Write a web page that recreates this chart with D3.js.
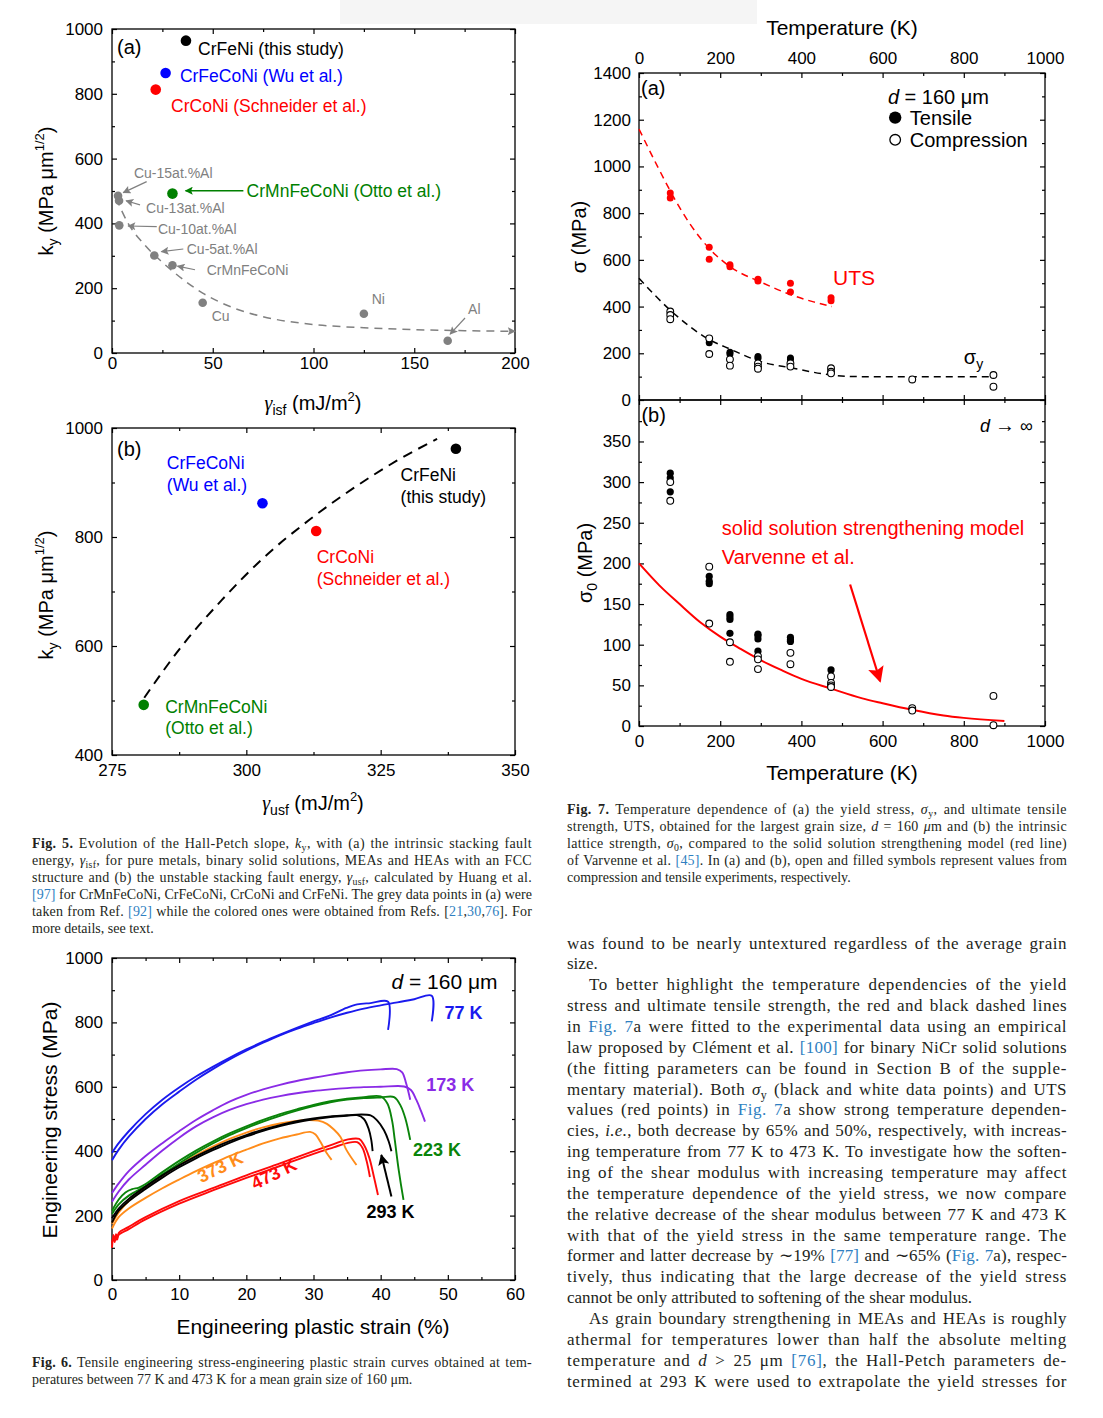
<!DOCTYPE html>
<html>
<head>
<meta charset="utf-8">
<script src="https://cdn.jsdelivr.net/npm/d3@7"></script>
<style>
body { margin: 0; background: #fff; }
#page { position: relative; width: 1103px; height: 1418px; overflow: hidden; background: #fff; }
#page svg { position: absolute; left: 0; top: 0; }
.txt { position: absolute; font-family: "Liberation Serif", "Times New Roman", serif; color: #231f20; white-space: nowrap; }
.just { text-align: justify; text-align-last: justify; }
.txt a { color: #2f7fc1; text-decoration: none; }
.txt sub { font-size: 70%; vertical-align: -0.3em; line-height: 0; }
</style>
</head>
<body>
<div id="page"></div>
<script>
/*********************** DATA ***********************/
// Fig. 5a - ky vs gamma_isf
const isfGreyX = [3, 3.5, 3.6, 21, 30, 45, 125, 166.6];
const isfGreyY = [485, 470, 394, 301, 271, 155, 121, 38];
const isfFitX = [2, 8, 16, 25, 35, 45, 60, 75, 100, 125, 150, 175, 200];
const isfFitY = [478, 400, 335, 280, 228, 185, 140, 112, 88, 78, 72, 69, 67];
const alloyNames = ["CrFeNi (this study)", "CrFeCoNi (Wu et al.)", "CrCoNi (Schneider et al.)", "CrMnFeCoNi (Otto et al.)"];
const alloyColors = ["#000000", "#0000ff", "#ff0000", "#008000"];
const isfColX = [36.7, 26.6, 21.7, 30];
const isfColY = [964, 864, 813, 492];
const fig5aXTicks = [0, 50, 100, 150, 200];
const fig5aYTicks = [0, 200, 400, 600, 800, 1000];

// Fig. 5b - ky vs gamma_usf
const usfX = [339, 303, 313, 280.9];
const usfY = [962, 862, 811, 492];
const usfFitX = [281, 288, 295.5, 303, 311.8, 320, 328, 335.5];
const usfFitY = [505, 600, 685, 760, 832, 890, 940, 980];
const fig5bXTicks = [275, 300, 325, 350];
const fig5bYTicks = [400, 600, 800, 1000];

// Fig. 6 - tensile curves [strain %, stress MPa]
const c77a = [[0,395],[1,425],[2.5,462],[5,515],[7.5,560],[10,598],[12.5,632],[15,662],[17.5,690],[20,716],[22.5,740],[25,762],[27.5,783],[30,803],[32.5,822],[34.9,845],[36.5,856],[38.5,860],[41.1,864],[41.1,777]];
const c77b = [[0,372],[1,405],[2.5,445],[5,500],[7.5,546],[10,585],[12.5,622],[15,655],[17.5,685],[20,712],[22.5,737],[25,760],[27.5,780],[30,798],[32.5,815],[35,830],[37.5,843],[40,853],[42.5,862],[45,872],[47.6,883],[47.6,803]];
const c173a = [[0,270],[1,300],[2.5,338],[5,385],[7.5,425],[10,462],[12.5,497],[15,527],[17.5,554],[20,575],[22.5,592],[25,606],[27.5,618],[30,628],[32.5,637],[35,645],[37.5,651],[40,654],[42.4,655],[43.2,645],[43.8,610],[44.4,560]];
const c173b = [[0,243],[1,275],[2.5,312],[5,358],[7.5,402],[10,442],[12.5,477],[15,505],[17.5,528],[20,546],[22.5,560],[25,571],[27.5,580],[30,587],[32.5,592],[35,596],[37.5,599],[40,600],[43.5,601],[44.5,590],[45.3,560],[46,525],[46.6,492]];
const c223a = [[0,215],[1,250],[2,272],[3,282],[4,287],[5,298],[7.5,335],[10,370],[12.5,402],[15,430],[17.5,455],[20,477],[22.5,497],[25,515],[27.5,530],[30,544],[32.5,555],[35,563],[37.5,568],[40,570],[41,548],[41.7,495],[42.1,435],[42.7,340],[43.4,249]];
const c223b = [[0,205],[1,235],[2.5,262],[5,292],[7.5,328],[10,362],[12.5,395],[15,424],[17.5,450],[20,472],[22.5,492],[25,510],[27.5,526],[30,540],[32.5,552],[35,560],[37.5,565],[40,567],[42,568],[43,540],[43.7,500],[44.4,435]];
const c293a = [[0,178],[1,215],[2.5,245],[5,283],[7.5,318],[10,350],[12.5,378],[15,403],[17.5,426],[20,446],[22.5,463],[25,478],[27.5,490],[30,499],[32.5,506],[35,510],[36.5,512],[37.5,500],[38.2,470],[38.6,435],[38.8,400]];
const c293b = [[0,192],[1,222],[2.5,252],[5,290],[7.5,325],[10,356],[12.5,384],[15,409],[17.5,431],[20,450],[22.5,467],[25,481],[27.5,493],[30,502],[32.5,508],[35,512],[38.5,511],[39.5,495],[40.5,465],[41.2,430],[41.6,400]];
const c373a = [[0,175],[1,210],[2.5,245],[5,287],[7.5,324],[10,357],[12.5,387],[15,414],[17.5,438],[20,458],[22.5,474],[25,486],[27.5,494],[29,497],[30.7,495],[32,485],[33,468],[34,445],[34.9,404],[36.4,357]];
const c373b = [[0,160],[1,195],[2.5,222],[5,255],[7.5,285],[10,312],[12.5,338],[15,362],[17.5,385],[20,405],[22.5,424],[25,440],[27.5,452],[29.5,460],[30.3,452],[31,430],[31.8,400],[32.7,373]];
const c473a = [[0,100],[0.2,140],[0.4,118],[0.6,142],[0.8,126],[1,146],[2.5,165],[5,195],[10,245],[15,285],[20,325],[25,362],[30,400],[33,422],[35,436],[36.8,438],[37.5,420],[38.3,380],[39,320],[39.6,264]];
const c473b = [[0,115],[0.3,135],[0.6,125],[1,140],[2.5,158],[5,188],[10,237],[15,278],[20,317],[25,354],[30,392],[33,412],[35,425],[36.5,428],[37.3,410],[37.9,370],[38.4,320]];
const tensileCurves = [
  { temp: "77 K", pts: c77a }, { temp: "77 K", pts: c77b },
  { temp: "173 K", pts: c173a }, { temp: "173 K", pts: c173b },
  { temp: "473 K", pts: c473a }, { temp: "473 K", pts: c473b },
  { temp: "373 K", pts: c373a }, { temp: "373 K", pts: c373b },
  { temp: "223 K", pts: c223a }, { temp: "223 K", pts: c223b },
  { temp: "293 K", pts: c293a }, { temp: "293 K", pts: c293b }
];
const tempNames = ["77 K", "173 K", "223 K", "293 K", "373 K", "473 K"];
const tempColors = ["#1a1aee", "#8a2be6", "#0a840a", "#000000", "#ff8c1a", "#ff0a0a"];
const fig6XTicks = [0, 10, 20, 30, 40, 50, 60];
const fig6YTicks = [0, 200, 400, 600, 800, 1000];

// Fig. 7a - yield stress and UTS vs temperature
const utsT = [77, 77, 173, 173, 224, 224, 293, 293, 373, 373, 473, 473];
const utsS = [886, 865, 654, 603, 579, 571, 517, 510, 500, 462, 438, 425];
const utsFitT = [0, 50, 77, 125, 175, 225, 300, 375, 430, 475];
const utsFitS = [1160, 985, 895, 755, 645, 570, 505, 450, 420, 400];
const ysTensT = [173, 224, 224, 293, 293, 373, 373];
const ysTensS = [245, 204, 197, 186, 179, 180, 172];
const ysCompT = [77, 77, 77, 173, 173, 224, 224, 293, 293, 293, 373, 373, 473, 473, 473, 673, 873, 873];
const ysCompS = [379, 364, 346, 264, 197, 174, 147, 157, 143, 134, 157, 143, 136, 121, 114, 88, 107, 57];
const ysFitT = [0, 76, 172, 224, 300, 380, 473, 544, 700, 873];
const ysFitS = [521, 386, 260, 218, 164, 136, 107, 100, 100, 100];
const fig7XTicks = [0, 200, 400, 600, 800, 1000];
const fig7aYTicks = [0, 200, 400, 600, 800, 1000, 1200, 1400];

// Fig. 7b - lattice strength vs temperature
const s0TensT = [77, 77, 77, 173, 173, 173, 224, 224, 224, 224, 293, 293, 293, 293, 373, 373, 373, 473];
const s0TensS = [311, 305, 288, 184, 178, 175, 137, 134, 131, 114, 113, 111, 107, 92, 109, 106, 104, 69];
const s0CompT = [77, 77, 173, 173, 224, 224, 293, 293, 293, 373, 373, 473, 473, 473, 473, 673, 673, 873, 873];
const s0CompS = [300, 277, 196, 126, 103, 79, 86, 82, 70, 90, 76, 61, 53, 50, 48, 22, 19, 37, 1];
const modelT = [0, 50, 100, 150, 200, 250, 300, 350, 400, 473, 550, 600, 672, 750, 800, 900];
const modelS = [200, 173, 150, 128, 110, 95, 81, 69, 58, 46, 34, 28, 20, 13, 10, 6];
const fig7bYTicks = [0, 50, 100, 150, 200, 250, 300, 350];

/*********************** SETUP ***********************/
const SANS = "'Liberation Sans', Arial, sans-serif";
const page = d3.select('#page');
const svg = page.append('svg').attr('width', 1103).attr('height', 1418);
const defs = svg.append('defs');

svg.append('rect').attr('x', 340).attr('y', 0).attr('width', 417).attr('height', 24).attr('fill', '#f5f5f5');

function marker(id, color, w, h) {
    defs.append('marker').attr('id', id).attr('viewBox', '0 0 10 10')
        .attr('refX', 9).attr('refY', 5)
        .attr('markerWidth', w).attr('markerHeight', h)
        .attr('markerUnits', 'userSpaceOnUse').attr('orient', 'auto')
        .append('path').attr('d', 'M0,0L10,5L0,10L2,5Z').attr('fill', color);
}
marker('arGrey', '#808080', 10, 8);
marker('arGreen', '#008000', 10, 8);
marker('arBlack', '#000', 13, 11);
marker('arRed', '#ff0000', 22, 16);

// frame + inward ticks on four sides
function axes(x, y, o) {
    let g = svg.append('g');
    let [xl, xr] = x.range();
    let [yb, yt] = y.range();
    let f = d3.format('d');
    g.append('g').attr('transform', `translate(0,${yb})`)
        .call(d3.axisBottom(x).tickValues(o.xMajor).tickSize(-5).tickPadding(o.xPad || 4).tickFormat(o.bottom ? f : ''));
    g.append('g').attr('transform', `translate(0,${yb})`)
        .call(d3.axisBottom(x).tickValues(o.xMinor).tickSize(-3).tickFormat(''));
    g.append('g').attr('transform', `translate(0,${yt})`)
        .call(d3.axisTop(x).tickValues(o.xMajor).tickSize(-5).tickPadding(o.xPad || 4).tickFormat(o.top ? f : ''));
    g.append('g').attr('transform', `translate(0,${yt})`)
        .call(d3.axisTop(x).tickValues(o.xMinor).tickSize(-3).tickFormat(''));
    g.append('g').attr('transform', `translate(${xl},0)`)
        .call(d3.axisLeft(y).tickValues(o.yMajor).tickSize(-5).tickPadding(o.yPad || 8).tickFormat(f));
    g.append('g').attr('transform', `translate(${xl},0)`)
        .call(d3.axisLeft(y).tickValues(o.yMinor).tickSize(-3).tickFormat(''));
    g.append('g').attr('transform', `translate(${xr},0)`)
        .call(d3.axisRight(y).tickValues(o.yMajor).tickSize(-5).tickFormat(''));
    g.append('g').attr('transform', `translate(${xr},0)`)
        .call(d3.axisRight(y).tickValues(o.yMinor).tickSize(-3).tickFormat(''));
    g.selectAll('.domain').remove();
    g.selectAll('line').attr('stroke', '#000').attr('stroke-width', 1.2);
    g.selectAll('text').attr('font-family', SANS).attr('font-size', 17).attr('fill', '#000');
    g.append('rect').attr('x', xl).attr('y', yt).attr('width', xr - xl).attr('height', yb - yt)
        .attr('fill', 'none').attr('stroke', '#000').attr('stroke-width', 1.3);
}

function label(x, y, html, o) {
    o = o || {};
    return svg.append('text')
        .attr('transform', `translate(${x},${y}) rotate(${o.rot || 0})`)
        .attr('dy', '0.35em')
        .attr('text-anchor', o.anchor || 'start')
        .attr('font-family', SANS)
        .attr('font-size', o.size || 17)
        .attr('font-weight', o.bold ? 'bold' : 'normal')
        .attr('fill', o.color || '#000')
        .html(html);
}

function arrow(x1, y1, x2, y2, color, mk, w) {
    svg.append('line').attr('x1', x1).attr('y1', y1).attr('x2', x2).attr('y2', y2)
        .attr('stroke', color).attr('stroke-width', w || 1.3).attr('marker-end', `url(#${mk})`);
}

const gam = '<tspan font-family="Liberation Serif" font-style="italic">γ</tspan>';
const kyTitle = 'k<tspan dy="5" font-size="14">y</tspan><tspan dy="-5"> (MPa μm</tspan><tspan dy="-9" font-size="13">1/2</tspan><tspan dy="9">)</tspan>';

/*********************** FIG 5a ***********************/
let x5a = d3.scaleLinear().domain([0, 200]).range([112, 515]);
let y5a = d3.scaleLinear().domain([0, 1000]).range([353, 29]);
axes(x5a, y5a, { xMajor: fig5aXTicks, xMinor: [25, 75, 125, 175], yMajor: fig5aYTicks, yMinor: [100, 300, 500, 700, 900], bottom: true, xPad: 4, yPad: 9 });

svg.append('path')
    .datum(isfFitX.map((d, i) => [d, isfFitY[i]]))
    .attr('d', d3.line().x(d => x5a(d[0])).y(d => y5a(d[1])).curve(d3.curveMonotoneX))
    .attr('fill', 'none').attr('stroke', '#808080').attr('stroke-width', 1.5)
    .attr('stroke-dasharray', '8,6').attr('marker-end', 'url(#arGrey)');

svg.selectAll('.grey5a').data(isfGreyX).enter().append('circle')
    .attr('cx', d => x5a(d)).attr('cy', (d, i) => y5a(isfGreyY[i])).attr('r', 4.3).attr('fill', '#808080');
svg.selectAll('.col5a').data(isfColX).enter().append('circle')
    .attr('cx', d => x5a(d)).attr('cy', (d, i) => y5a(isfColY[i])).attr('r', 5.3).attr('fill', (d, i) => alloyColors[i]);

// grey labels with arrows: [text, x, y, arrow from x,y, to x,y]
let greyLabels = [
    ['Cu-15at.%Al', 10.9, 556, 17.2, 529, 5.6, 495],
    ['Cu-13at.%Al', 16.9, 448, 13.9, 457, 7.0, 470],
    ['Cu-10at.%Al', 22.8, 383, 22.2, 390, 8.0, 392],
    ['Cu-5at.%Al', 37.1, 322, 35.4, 321, 24.5, 313],
    ['CrMnFeCoNi', 47, 257, 41.2, 257, 32.5, 268],
    ['Cu', 49.5, 113],
    ['Ni', 128.9, 167],
    ['Al', 176.7, 134, 175.2, 108, 167.8, 58]
];
greyLabels.forEach(l => {
    label(x5a(l[1]), y5a(l[2]), l[0], { size: 14, color: '#808080' });
    if (l.length > 3) arrow(x5a(l[3]), y5a(l[4]), x5a(l[5]), y5a(l[6]), '#808080', 'arGrey', 1.2);
});
label(x5a(42.7), y5a(940), alloyNames[0], { size: 17.5, color: alloyColors[0] });
label(x5a(33.7), y5a(855), alloyNames[1], { size: 17.5, color: alloyColors[1] });
label(x5a(29.3), y5a(762), alloyNames[2], { size: 17.5, color: alloyColors[2] });
label(x5a(66.8), y5a(501), alloyNames[3], { size: 17.5, color: alloyColors[3] });
arrow(x5a(65.2), y5a(501), x5a(36.5), y5a(501), '#008000', 'arGreen', 1.4);
label(117, 47, '(a)', { size: 20 });
label(46, 191, kyTitle, { size: 20, rot: -90, anchor: 'middle' });
label(313, 403, gam + '<tspan dy="5" font-size="14">isf</tspan><tspan dy="-5"> (mJ/m</tspan><tspan dy="-9" font-size="13">2</tspan><tspan dy="9">)</tspan>', { size: 20, anchor: 'middle' });

/*********************** FIG 5b ***********************/
let x5b = d3.scaleLinear().domain([275, 350]).range([112, 515]);
let y5b = d3.scaleLinear().domain([400, 1000]).range([755, 428]);
axes(x5b, y5b, { xMajor: fig5bXTicks, xMinor: [287.5, 312.5, 337.5], yMajor: fig5bYTicks, yMinor: [500, 700, 900], bottom: true, xPad: 9, yPad: 9 });

svg.append('path')
    .datum(usfFitX.map((d, i) => [d, usfFitY[i]]))
    .attr('d', d3.line().x(d => x5b(d[0])).y(d => y5b(d[1])).curve(d3.curveMonotoneX))
    .attr('fill', 'none').attr('stroke', '#000').attr('stroke-width', 2).attr('stroke-dasharray', '10,7');
svg.selectAll('.col5b').data(usfX).enter().append('circle')
    .attr('cx', d => x5b(d)).attr('cy', (d, i) => y5b(usfY[i])).attr('r', 5.3).attr('fill', (d, i) => alloyColors[i]);

let lab5b = [
    [alloyNames[1], 285.2, 936, 895],
    [alloyNames[0], 328.7, 914, 874],
    [alloyNames[2], 313.1, 764, 723],
    [alloyNames[3], 284.9, 489, 449]
];
lab5b.forEach(l => {
    let parts = l[0].split(' (');
    let col = alloyColors[alloyNames.indexOf(l[0])];
    label(x5b(l[1]), y5b(l[2]), parts[0], { size: 17.5, color: col });
    label(x5b(l[1]), y5b(l[3]), '(' + parts[1], { size: 17.5, color: col });
});
label(117, 449, '(b)', { size: 20 });
label(46, 595, kyTitle, { size: 20, rot: -90, anchor: 'middle' });
label(313, 803, gam + '<tspan dy="5" font-size="14">usf</tspan><tspan dy="-5"> (mJ/m</tspan><tspan dy="-9" font-size="13">2</tspan><tspan dy="9">)</tspan>', { size: 20, anchor: 'middle' });

/*********************** FIG 6 ***********************/
let x6 = d3.scaleLinear().domain([0, 60]).range([112, 515]);
let y6 = d3.scaleLinear().domain([0, 1000]).range([1280, 958]);
axes(x6, y6, { xMajor: fig6XTicks, xMinor: [5, 15, 25, 35, 45, 55], yMajor: fig6YTicks, yMinor: [100, 300, 500, 700, 900], bottom: true, xPad: 8, yPad: 9 });

let line6 = d3.line().x(d => x6(d[0])).y(d => y6(d[1])).curve(d3.curveCatmullRom.alpha(0.5));
svg.selectAll('.curve6').data(tensileCurves).enter().append('path')
    .attr('d', d => line6(d.pts)).attr('fill', 'none')
    .attr('stroke', d => tempColors[tempNames.indexOf(d.temp)])
    .attr('stroke-width', 1.9).attr('stroke-linejoin', 'round');

label(x6(57.4), y6(926), '<tspan font-style="italic">d</tspan> = 160 μm', { size: 21, anchor: 'end' });
label(x6(49.5), y6(830), '77 K', { size: 18, bold: true, color: tempColors[0] });
label(x6(46.8), y6(606), '173 K', { size: 18, bold: true, color: tempColors[1] });
label(x6(44.8), y6(404), '223 K', { size: 18, bold: true, color: tempColors[2] });
label(x6(37.9), y6(212), '293 K', { size: 18, bold: true, color: tempColors[3] });
label(x6(16.1), y6(351), '373 K', { size: 18, bold: true, color: tempColors[4], rot: -26, anchor: 'middle' });
label(x6(24.1), y6(330), '473 K', { size: 18, bold: true, color: tempColors[5], rot: -26, anchor: 'middle' });
arrow(x6(41.6), y6(259), x6(40.1), y6(388), '#000', 'arBlack', 2);
label(50, 1120, 'Engineering stress (MPa)', { size: 21, rot: -90, anchor: 'middle' });
label(313, 1327, 'Engineering plastic strain (%)', { size: 21, anchor: 'middle' });

/*********************** FIG 7a ***********************/
let x7 = d3.scaleLinear().domain([0, 1000]).range([639, 1045]);
let y7a = d3.scaleLinear().domain([0, 1400]).range([400, 73]);
axes(x7, y7a, { xMajor: fig7XTicks, xMinor: [100, 300, 500, 700, 900], yMajor: fig7aYTicks, yMinor: [100, 300, 500, 700, 900, 1100, 1300], top: true, xPad: 9, yPad: 8 });

let line7a = d3.line().x(d => x7(d[0])).y(d => y7a(d[1])).curve(d3.curveMonotoneX);
svg.append('path').datum(utsFitT.map((d, i) => [d, utsFitS[i]])).attr('d', line7a)
    .attr('fill', 'none').attr('stroke', '#ff0000').attr('stroke-width', 1.5).attr('stroke-dasharray', '7,5');
svg.append('path').datum(ysFitT.map((d, i) => [d, ysFitS[i]])).attr('d', line7a)
    .attr('fill', 'none').attr('stroke', '#000').attr('stroke-width', 1.5).attr('stroke-dasharray', '7,5');

svg.selectAll('.uts').data(utsT).enter().append('circle')
    .attr('cx', d => x7(d)).attr('cy', (d, i) => y7a(utsS[i])).attr('r', 3.5).attr('fill', '#ff0000');
svg.selectAll('.ysT').data(ysTensT).enter().append('circle')
    .attr('cx', d => x7(d)).attr('cy', (d, i) => y7a(ysTensS[i])).attr('r', 3.5).attr('fill', '#000');
svg.selectAll('.ysC').data(ysCompT).enter().append('circle')
    .attr('cx', d => x7(d)).attr('cy', (d, i) => y7a(ysCompS[i])).attr('r', 3.4)
    .attr('fill', '#fff').attr('stroke', '#000').attr('stroke-width', 1.1);

label(x7(5), y7a(1337), '(a)', { size: 20 });
label(x7(613), y7a(1299), '<tspan font-style="italic">d</tspan> = 160 μm', { size: 20 });
svg.append('circle').attr('cx', x7(631)).attr('cy', y7a(1209)).attr('r', 6.2).attr('fill', '#000');
label(x7(667), y7a(1209), 'Tensile', { size: 20 });
svg.append('circle').attr('cx', x7(631)).attr('cy', y7a(1114)).attr('r', 5.3).attr('fill', '#fff').attr('stroke', '#000').attr('stroke-width', 1.3);
label(x7(667), y7a(1114), 'Compression', { size: 20 });
label(x7(478), y7a(523), 'UTS', { size: 21, color: '#ff0000' });
label(x7(800), y7a(184), 'σ<tspan dy="5" font-size="14">y</tspan>', { size: 20 });
label(842, 28, 'Temperature (K)', { size: 21, anchor: 'middle' });
label(579, 237, 'σ (MPa)', { size: 20, rot: -90, anchor: 'middle' });

/*********************** FIG 7b ***********************/
let y7b = d3.scaleLinear().domain([0, 401]).range([726, 400]);
axes(x7, y7b, { xMajor: fig7XTicks, xMinor: [100, 300, 500, 700, 900], yMajor: fig7bYTicks, yMinor: [25, 75, 125, 175, 225, 275, 325, 375], bottom: true, xPad: 9, yPad: 8 });

svg.append('path').datum(modelT.map((d, i) => [d, modelS[i]]))
    .attr('d', d3.line().x(d => x7(d[0])).y(d => y7b(d[1])).curve(d3.curveMonotoneX))
    .attr('fill', 'none').attr('stroke', '#ff0000').attr('stroke-width', 2);
svg.selectAll('.s0T').data(s0TensT).enter().append('circle')
    .attr('cx', d => x7(d)).attr('cy', (d, i) => y7b(s0TensS[i])).attr('r', 3.6).attr('fill', '#000');
svg.selectAll('.s0C').data(s0CompT).enter().append('circle')
    .attr('cx', d => x7(d)).attr('cy', (d, i) => y7b(s0CompS[i])).attr('r', 3.4)
    .attr('fill', '#fff').attr('stroke', '#000').attr('stroke-width', 1.1);

label(x7(6), y7b(383), '(b)', { size: 20 });
label(x7(970), y7b(369), '<tspan font-style="italic">d</tspan> <tspan font-size="20">→</tspan> ∞', { size: 18, anchor: 'end' });
label(x7(204), y7b(244), 'solid solution strengthening model', { size: 20, color: '#ff0000' });
label(x7(204), y7b(208), 'Varvenne et al.', { size: 20, color: '#ff0000' });
arrow(x7(520), y7b(174), x7(594), y7b(55), '#ff0000', 'arRed', 2.2);
label(585, 563, 'σ<tspan dy="5" font-size="14">0</tspan><tspan dy="-5"> (MPa)</tspan>', { size: 20, rot: -90, anchor: 'middle' });
label(842, 773, 'Temperature (K)', { size: 21, anchor: 'middle' });

/*********************** TEXT ***********************/
let fig5Cap = [
    ['<b>Fig. 5.</b> Evolution of the Hall-Petch slope, <i>k</i><sub>y</sub>, with (a) the intrinsic stacking fault', 'j'],
    ['energy, <i>γ</i><sub>isf</sub>, for pure metals, binary solid solutions, MEAs and HEAs with an FCC', 'j'],
    ['structure and (b) the unstable stacking fault energy, <i>γ</i><sub>usf</sub>, calculated by Huang et al.', 'j'],
    ['<a>[97]</a> for CrMnFeCoNi, CrFeCoNi, CrCoNi and CrFeNi. The grey data points in (a) were', 'j'],
    ['taken from Ref. <a>[92]</a> while the colored ones were obtained from Refs. [<a>21</a>,<a>30</a>,<a>76</a>]. For', 'j'],
    ['more details, see text.', 'l']
];
let fig6Cap = [
    ['<b>Fig. 6.</b> Tensile engineering stress-engineering plastic strain curves obtained at tem-', 'j'],
    ['peratures between 77 K and 473 K for a mean grain size of 160 μm.', 'l']
];
let fig7Cap = [
    ['<b>Fig. 7.</b> Temperature dependence of (a) the yield stress, <i>σ</i><sub>y</sub>, and ultimate tensile', 'j'],
    ['strength, UTS, obtained for the largest grain size, <i>d</i> = 160 <i>μ</i>m and (b) the intrinsic', 'j'],
    ['lattice strength, <i>σ</i><sub>0</sub>, compared to the solid solution strengthening model (red line)', 'j'],
    ['of Varvenne et al. <a>[45]</a>. In (a) and (b), open and filled symbols represent values from', 'j'],
    ['compression and tensile experiments, respectively.', 'l']
];
let bodyText = [
    ['was found to be nearly untextured regardless of the average grain', 'j'],
    ['size.', 'l'],
    ['To better highlight the temperature dependencies of the yield', 'ji'],
    ['stress and ultimate tensile strength, the red and black dashed lines', 'j'],
    ['in <a>Fig. 7</a>a were fitted to the experimental data using an empirical', 'j'],
    ['law proposed by Clément et al. <a>[100]</a> for binary NiCr solid solutions', 'j'],
    ['(the fitting parameters can be found in Section B of the supple-', 'j'],
    ['mentary material). Both <i>σ</i><sub>y</sub> (black and white data points) and UTS', 'j'],
    ['values (red points) in <a>Fig. 7</a>a show strong temperature dependen-', 'j'],
    ['cies, <i>i.e.</i>, both decrease by 65% and 50%, respectively, with increas-', 'j'],
    ['ing temperature from 77 K to 473 K. To investigate how the soften-', 'j'],
    ['ing of the shear modulus with increasing temperature may affect', 'j'],
    ['the temperature dependence of the yield stress, we now compare', 'j'],
    ['the relative decrease of the shear modulus between 77 K and 473 K', 'j'],
    ['with that of the yield stress in the same temperature range. The', 'j'],
    ['former and latter decrease by ∼19% <a>[77]</a> and ∼65% (<a>Fig. 7</a>a), respec-', 'j'],
    ['tively, thus indicating that the large decrease of the yield stress', 'j'],
    ['cannot be only attributed to softening of the shear modulus.', 'l'],
    ['As grain boundary strengthening in MEAs and HEAs is roughly', 'ji'],
    ['athermal for temperatures lower than half the absolute melting', 'j'],
    ['temperature and <i>d</i> &gt; 25 μm <a>[76]</a>, the Hall-Petch parameters de-', 'j'],
    ['termined at 293 K were used to extrapolate the yield stresses for', 'j']
];

// each justified line: spread part of the free space over the letters, the rest over the gaps
function textBlock(lines, x, yc, lh, width, size, ls) {
    lines.forEach((l, i) => {
        let ind = l[1].indexOf('i') >= 0 ? 22 : 0;
        let w = width - ind;
        let div = page.append('div')
            .attr('class', 'txt')
            .style('left', (x + ind) + 'px')
            .style('top', (yc + i * lh - lh / 2) + 'px')
            .style('font-size', size + 'px')
            .style('letter-spacing', (ls || 0) + 'px')
            .style('line-height', lh + 'px')
            .html(l[0]);
        if (l[1][0] === 'j') {
            let node = div.node();
            let natural = node.getBoundingClientRect().width;
            let n = node.textContent.length;
            let extra = w - natural;
            let add = extra > 0 ? extra * 0.6 / n : extra * 1.05 / n;
            div.style('letter-spacing', ((ls || 0) + add) + 'px')
                .style('width', w + 'px')
                .classed('just', true);
        }
    });
}
textBlock(fig5Cap, 32, 843, 17, 500, 14);
textBlock(fig6Cap, 32, 1362, 17, 500, 14);
textBlock(fig7Cap, 567, 809, 17, 500, 14);
textBlock(bodyText, 567, 944, 20.86, 500, 17);
</script>
</body>
</html>
